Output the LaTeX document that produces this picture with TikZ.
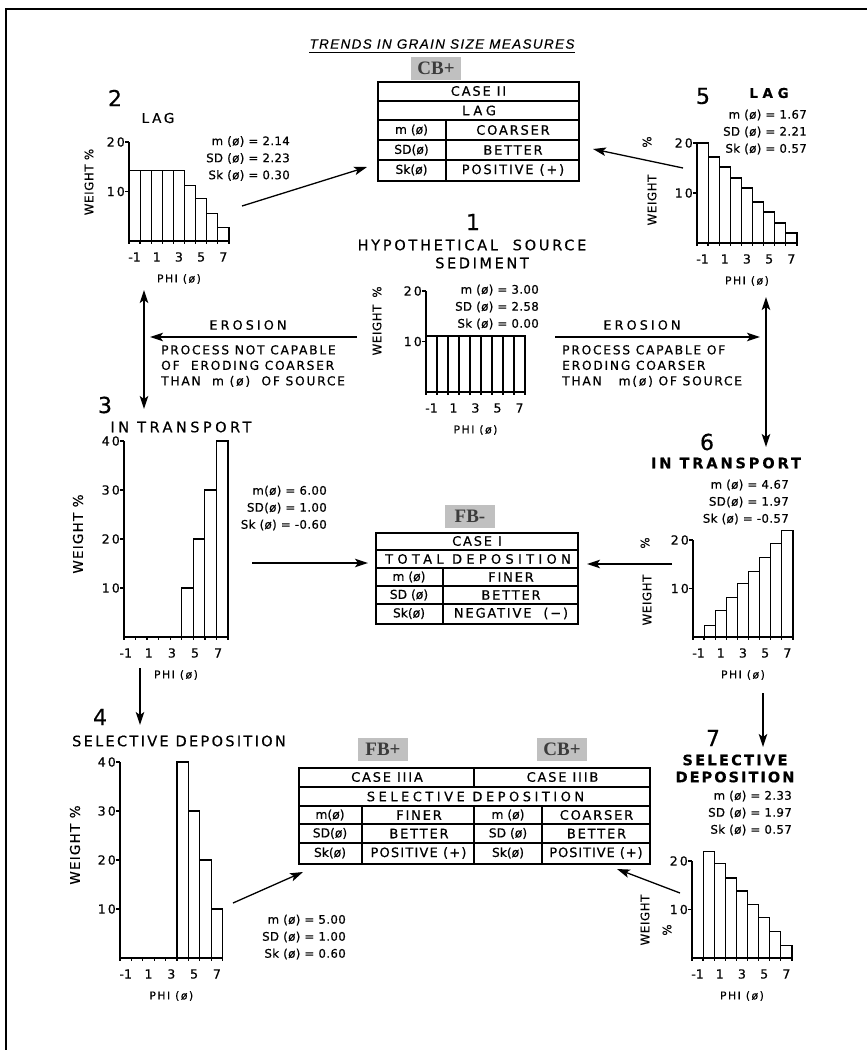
\documentclass[tikz,border=0pt]{standalone}
\usepackage{fontspec}
\setmainfont{DejaVu Sans}
\newfontfamily\tagfont{Liberation Serif}
\newfontfamily\titlefont{Liberation Sans}
\usetikzlibrary{arrows.meta}
\definecolor{tagbg}{RGB}{192,192,192}
\definecolor{tagfg}{RGB}{60,60,60}
\newcommand{\LS}[1]{\addfontfeatures{LetterSpace=#1,FakeBold=0.5}}
\newcommand{\fs}[2]{\fontsize{#1}{#2}\selectfont}
\newcommand{\xoff}{0.5}
\tikzset{
 bar/.style={draw=black,line width=1.2pt,fill=white},
 axis/.style={line width=1.3pt},
 ytick/.style={font=\fs{12.5}{14}\LS{17},inner sep=0pt},
 xtick/.style={font=\fs{12.5}{14}\LS{0},inner sep=0pt},
 philab/.style={font=\fs{10.8}{12}\LS{14},inner sep=0pt},
 wt/.style={font=\fs{11.8}{13}\LS{5},rotate=90,inner sep=0pt},
 wtbig/.style={font=\fs{13.5}{14}\LS{9},rotate=90,inner sep=0pt},
 stat/.style={font=\fs{11.8}{17}\LS{3},align=right,inner sep=0pt,anchor=east},
 bignum/.style={font=\fs{22}{24}\LS{0},inner sep=0pt},
 head/.style={font=\fs{14.5}{16}\LS{14},inner sep=0pt},
 headb/.style={font=\bfseries\fs{14.5}{17}\LS{16},inner sep=0pt},
 tcell/.style={font=\fs{13}{14}\LS{14},inner sep=0pt},
 tlab/.style={font=\fs{12.3}{14}\LS{0},inner sep=0pt},
 twide/.style={font=\fs{13}{14}\LS{29},inner sep=0pt},
 tbox/.style={draw,line width=1.5pt,inner sep=0pt,anchor=north west},
 tline/.style={line width=1.1pt},
 tag/.style={fill=tagbg,text=tagfg,font=\tagfont\bfseries\fs{19}{19},inner sep=0pt,minimum width=50pt,minimum height=23pt},
 conn/.style={line width=1.3pt,-{Stealth[length=13pt,width=8.5pt,inset=3pt]}},
 dconn/.style={line width=1.3pt,{Stealth[length=13pt,width=8.5pt,inset=3pt]}-{Stealth[length=13pt,width=8.5pt,inset=3pt]}},
 proc/.style={font=\fs{12.3}{15.5}\LS{14},align=left,inner sep=0pt},
 eros/.style={font=\fs{12.8}{14}\LS{24},inner sep=0pt},
}
% #1 prefix, #2 x0, #3 base, #4 bar width, #5 px per unit, #6 heights, #7 y ticks, #8 axis top
\newcommand{\hist}[8]{%
  \foreach \h [count=\i from 0] in {#6}{%
    \ifdim\h pt>0pt
      \draw[bar] ({#2+\i*#4},#3) rectangle ({#2+(\i+1)*#4},{#3-\h*#5});
    \fi
  }%
  \draw[axis] (#2,{#3-#8*#5}) -- (#2,#3) -- ({#2+9*#4},#3);
  \foreach \j in {0,...,9}{\draw[axis] ({#2+\j*#4},#3) -- ++(0,3);}%
  \foreach \t in {#7}{%
    \draw[axis] (#2,{#3-\t*#5}) -- ++(-4,0);
    \node[ytick,anchor=east] (#1y\t) at ({#2-4},{#3-\t*#5}) {\t};
  }%
  \foreach \t [count=\k from 0] in {-1,1,3,5,7}{%
    \node[xtick] (#1x\k) at ({#2+(2*\k+\xoff)*#4},{#3+16}) {\t};
  }%
  \node[philab] (#1phi) at ({#2+4.5*#4},{#3+38}) {PHI (ø)};
}
\begin{document}
\begin{tikzpicture}[x=1pt,y=-1pt]
\useasboundingbox (0,0) rectangle (867,1050);
\draw[line width=1.2pt] (6,1050) -- (6,9) -- (867,9);

% title
\node[font=\titlefont\itshape\fs{13.5}{15}\LS{10},inner sep=0pt] (title) at (442,44) {TRENDS IN GRAIN SIZE MEASURES};
\draw[line width=0.8pt] ([yshift=-3pt]title.south west) -- ([yshift=-3pt]title.south east);

% tags
\node[tag] (tagCB1) at (436,68) {CB+};
\node[tag] (tagFB1) at (470,516) {FB-};
\node[tag] (tagFB2) at (383,749) {FB+};
\node[tag] (tagCB2) at (562,749) {CB+};

% ---------- CASE II table
\node[tbox,minimum width=201pt,minimum height=99pt] (case2) at (377,81) {};
\draw[tline] (377,101) -- (578,101) (377,120) -- (578,120) (377,140) -- (578,140) (377,160) -- (578,160) (446,120) -- (446,180);
\node[tcell] (c2a) at (478.5,91) {CASE II};
\node[twide] (c2b) at (479,110.5) {LAG};
\node[tlab] (c2m) at (411.5,130) {m (ø)};
\node[tcell] (c2mv) at (513,130) {COARSER};
\node[tlab] (c2s) at (411.5,150) {SD(ø)};
\node[tcell] (c2sv) at (513,150) {BETTER};
\node[tlab] (c2k) at (411.5,170) {Sk(ø)};
\node[tcell] (c2kv) at (513,170) {POSITIVE (+)};

% ---------- CASE I table
\node[tbox,minimum width=202pt,minimum height=91pt] (case1) at (375,532) {};
\draw[tline] (375,550) -- (577,550) (375,568) -- (577,568) (375,586) -- (577,586) (375,604) -- (577,604) (443,568) -- (443,623);
\node[tcell] (c1a) at (477,541) {CASE I};
\node[twide,font=\fs{13}{14}\LS{33}] (c1b) at (478,559) {TOTAL DEPOSITION};
\node[tlab] (c1m) at (409,577) {m (ø)};
\node[tcell] (c1mv) at (511,577) {FINER};
\node[tlab] (c1s) at (409,595) {SD (ø)};
\node[tcell] (c1sv) at (511,595) {BETTER};
\node[tlab] (c1k) at (409,613.5) {Sk(ø)};
\node[tcell] (c1kv) at (511,613.5) {NEGATIVE \ (−)};

% ---------- CASE III table
\node[tbox,minimum width=351pt,minimum height=96pt] (case3) at (298,767) {};
\draw[tline] (298,787) -- (649,787) (298,806) -- (649,806) (298,824) -- (649,824) (298,843) -- (649,843)
  (474,767) -- (474,787) (474,806) -- (474,863) (362,806) -- (362,863) (542,806) -- (542,863);
\node[tcell] (c3a) at (387,777) {CASE IIIA};
\node[tcell] (c3b) at (562.5,777) {CASE IIIB};
\node[twide,font=\fs{13}{14}\LS{27}] (c3c) at (475.5,796.5) {SELECTIVE DEPOSITION};
\node[tlab] (c3m1) at (330,815) {m(ø)};
\node[tcell] (c3m1v) at (419,815) {FINER};
\node[tlab] (c3m2) at (508,815) {m (ø)};
\node[tcell] (c3m2v) at (596.5,815) {COARSER};
\node[tlab] (c3s1) at (330,833.5) {SD(ø)};
\node[tcell] (c3s1v) at (419,833.5) {BETTER};
\node[tlab] (c3s2) at (508,833.5) {SD (ø)};
\node[tcell] (c3s2v) at (596.5,833.5) {BETTER};
\node[tlab] (c3k1) at (330,853) {Sk(ø)};
\node[tcell,font=\fs{13}{14}\LS{9}] (c3k1v) at (418.5,853) {POSITIVE (+)};
\node[tlab] (c3k2) at (508,853) {Sk(ø)};
\node[tcell,font=\fs{13}{14}\LS{7}] (c3k2v) at (596,853) {POSITIVE (+)};

% ---------- 1 source
\node[bignum] (n1) at (473,222) {1};
\node[head,font=\fs{14.5}{16}\LS{19}] (h1a) at (472,245) {HYPOTHETICAL \ SOURCE};
\node[head,font=\fs{14.5}{16}\LS{18}] (h1b) at (482,263) {SEDIMENT};
\hist{hA}{426}{392}{11}{5.05}{11.1,11.1,11.1,11.1,11.1,11.1,11.1,11.1,11.1}{10,20}{20}
\node[wt] (wA1) at (377,292) {\%};
\node[wt] (wA2) at (377,330) {WEIGHT};
\node[stat] (sA) at (539,307) {m (ø) = 3.00\\SD (ø) = 2.58\\Sk (ø) = 0.00};

% ---------- 2 lag
\node[bignum] (n2) at (115,98) {2};
\node[head,font=\fs{13.5}{14}\LS{20}] (h2) at (158,118) {LAG};
\hist{hB}{129}{241}{11.1}{4.95}{14.3,14.3,14.3,14.3,14.3,11.2,8.6,5.5,2.8}{10,20}{20}
\node[wt] (wB) at (89,182) {WEIGHT \%};
\node[stat] (sB) at (290,158.5) {m (ø) = 2.14\\SD (ø) = 2.23\\Sk (ø) = 0.30};

% ---------- 5 lag
\node[bignum] (n5) at (703,96) {5};
\node[headb,font=\bfseries\fs{13.5}{14}\LS{34}] (h5) at (769,93) {LAG};
\hist{hE}{697}{243}{11.1}{5}{20,17.2,15.2,13,11,8.2,6.2,4,2}{10,20}{20}
\node[wt] (wE1) at (647,142) {\%};
\node[wt] (wE2) at (652,200) {WEIGHT};
\node[stat] (sE) at (807,132) {m (ø) = 1.67\\SD (ø) = 2.21\\Sk (ø) = 0.57};

% ---------- 3 in transport
\node[bignum] (n3) at (105,405) {3};
\node[head,font=\fs{14.5}{16}\LS{24}] (h3) at (181,427) {IN TRANSPORT};
\renewcommand{\xoff}{0.15}
\hist{hC}{124}{637}{11.55}{4.9}{0,0,0,0,0,10,20,30,40}{10,20,30,40}{40}
\renewcommand{\xoff}{0.5}
\node[wtbig] (wC) at (78,534) {WEIGHT \%};
\node[stat] (sC) at (327,508) {m(ø) = 6.00\\SD(ø) = 1.00\\Sk (ø) = -0.60};

% ---------- 6 in transport
\node[bignum] (n6) at (707,442) {6};
\node[headb,font=\bfseries\fs{14.5}{17}\LS{20}] (h6) at (726,463) {IN TRANSPORT};
\hist{hF}{693}{637}{11.1}{4.85}{0,2.3,5.4,8.2,11,13.5,16.4,19.2,22}{10,20}{20}
\node[wt] (wF1) at (645,543) {\%};
\node[wt] (wF2) at (647,600) {WEIGHT};
\node[stat] (sF) at (789,502) {m (ø) = 4.67\\SD(ø) = 1.97\\Sk (ø) = -0.57};

% ---------- 4 selective deposition
\node[bignum] (n4) at (100,717) {4};
\node[head,font=\fs{14.5}{16}\LS{16}] (h4) at (179,741) {SELECTIVE DEPOSITION};
\hist{hD}{120}{958}{11.4}{4.9}{0,0,0,0,0,40,30,20,10}{10,20,30,40}{40}
\node[wtbig] (wD) at (75,845) {WEIGHT \%};
\node[stat] (sD) at (346,937) {m (ø) = 5.00\\SD (ø) = 1.00\\Sk (ø) = 0.60};

% ---------- 7 selective deposition
\node[bignum] (n7) at (713,738) {7};
\node[headb] (h7a) at (735,760) {SELECTIVE};
\node[headb,font=\bfseries\fs{14.5}{17}\LS{14}] (h7b) at (735,777) {DEPOSITION};
\hist{hG}{692}{958}{11.1}{4.85}{0,22,19.5,16.5,13.8,11,8.3,5.5,2.6}{10,20}{20}
\node[wt] (wG1) at (645,920) {WEIGHT};
\node[wt] (wG2) at (667,930) {\%};
\node[stat] (sG) at (792,813) {m (ø) = 2.33\\SD (ø) = 1.97\\Sk (ø) = 0.57};

% ---------- erosion texts
\node[eros] (erL) at (248,325) {EROSION};
\node[proc,anchor=north west] (prL) at (161,345) {PROCESS NOT CAPABLE\\OF \ ERODING COARSER\\THAN \ m (ø) \ OF SOURCE};
\node[eros] (erR) at (642,325) {EROSION};
\node[proc,anchor=north west] (prR) at (562,345) {PROCESS CAPABLE OF\\ERODING COARSER\\THAN \ \ m(ø) OF SOURCE};

% ---------- connectors
\coordinate (a2s) at (242,206); \coordinate (a2e) at (367,167);
\draw[conn] (a2s) -- (a2e);
\coordinate (a5s) at (683,168); \coordinate (a5e) at (593,149);
\draw[conn] (a5s) -- (a5e);
\coordinate (vLt) at (144,290); \coordinate (vLb) at (144,409);
\draw[dconn] (vLt) -- (vLb);
\coordinate (eLs) at (357,337); \coordinate (eLe) at (150,337);
\draw[conn] (eLs) -- (eLe);
\coordinate (eRs) at (555,337); \coordinate (eRe) at (760,337);
\draw[conn] (eRs) -- (eRe);
\coordinate (vRt) at (766,297); \coordinate (vRb) at (766,447);
\draw[dconn] (vRt) -- (vRb);
\coordinate (a3s) at (252,563); \coordinate (a3e) at (368,563);
\draw[conn] (a3s) -- (a3e);
\coordinate (a6s) at (672,564); \coordinate (a6e) at (587,564);
\draw[conn] (a6s) -- (a6e);
\coordinate (d3s) at (140,668); \coordinate (d3e) at (140,725);
\draw[conn] (d3s) -- (d3e);
\coordinate (d6s) at (763,693); \coordinate (d6e) at (763,747);
\draw[conn] (d6s) -- (d6e);
\coordinate (a4s) at (233,903); \coordinate (a4e) at (303,872);
\draw[conn] (a4s) -- (a4e);
\coordinate (a7s) at (680,893); \coordinate (a7e) at (617,869);
\draw[conn] (a7s) -- (a7e);
\end{tikzpicture}
\end{document}
